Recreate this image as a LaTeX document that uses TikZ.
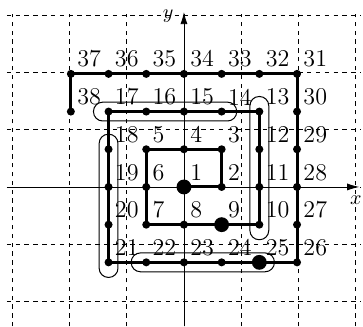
\documentclass[tikz,border=0pt]{standalone}
\usetikzlibrary{arrows.meta,positioning,calc}

\begin{document}
\begin{tikzpicture}[x=0.66cm, y=0.66cm,
    gridline/.style={dash pattern=on 2.2pt off 2.2pt, line width=0.4pt},
    axis/.style={line width=0.4pt, -{Latex[length=6pt,width=3.5pt]}},
    spiral/.style={line width=1.5pt},
    band/.style={line width=0.5pt, rounded corners=4.6pt},
    dot/.style={circle, fill, inner sep=0pt, minimum size=4pt},
    bigdot/.style={circle, fill, inner sep=0pt, minimum size=7.4pt},
    num/.style={inner sep=0pt, font=\large},
]
\useasboundingbox (-4.88,-3.69) rectangle (4.75,4.96);

% grid and axes
\draw[gridline] (-4.7,-3.7) grid (4.7,4.6);
\coordinate (xstart) at (-4.7,0);
\coordinate (xend) at (4.65,0);
\coordinate (ystart) at (0,-3.7);
\coordinate (yend) at (0,4.64);
\draw[axis] (xstart) -- (xend);
\draw[axis] (ystart) -- (yend);
\node (xlab) at (4.56,-0.34) {$x$};
\node (ylab) at (-0.42,4.52) {$y$};

% spiral positions
\foreach \n/\x/\y in {1/0/0, 2/1/0, 3/1/1, 4/0/1, 5/-1/1, 6/-1/0, 7/-1/-1, 8/0/-1,
    9/1/-1, 10/2/-1, 11/2/0, 12/2/1, 13/2/2, 14/1/2, 15/0/2, 16/-1/2, 17/-2/2,
    18/-2/1, 19/-2/0, 20/-2/-1, 21/-2/-2, 22/-1/-2, 23/0/-2, 24/1/-2, 25/2/-2,
    26/3/-2, 27/3/-1, 28/3/0, 29/3/1, 30/3/2, 31/3/3, 32/2/3, 33/1/3, 34/0/3,
    35/-1/3, 36/-2/3, 37/-3/3, 38/-3/2}
  \coordinate (c\n) at (\x,\y);

\draw[spiral] (c1) \foreach \n in {2,...,38}{ -- (c\n)};

% bands
\draw[band] ($(c17)+(-0.4,-0.25)$) rectangle ($(c14)+(0.4,0.25)$);
\draw[band] ($(c10)+(-0.25,-0.4)$) rectangle ($(c13)+(0.25,0.4)$);
\draw[band] ($(c21)+(-0.25,-0.4)$) rectangle ($(c18)+(0.25,0.4)$);
\draw[band] ($(c22)+(-0.4,-0.25)$) rectangle ($(c25)+(0.4,0.25)$);

% dots and numbers
\foreach \n in {2,...,8,10,11,...,24,26,27,...,38}
  \node[dot] (d\n) at (c\n) {};
\foreach \n in {1,9,25}
  \node[bigdot] (d\n) at (c\n) {};
\foreach \n in {1,...,38}
  \node[num, above right=3pt and 3pt of c\n] (l\n) {\n};
\end{tikzpicture}
\end{document}
